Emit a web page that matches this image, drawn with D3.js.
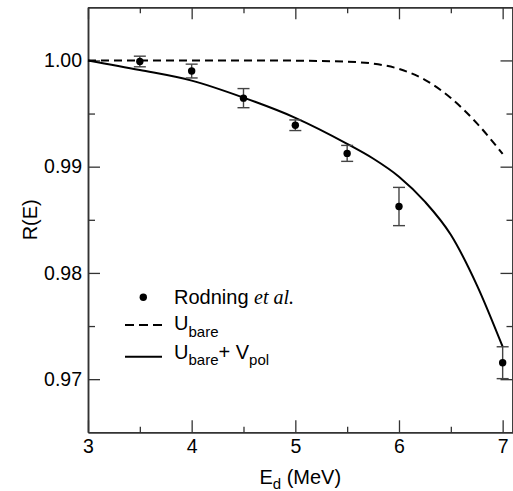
<!DOCTYPE html>
<html>
<head>
<meta charset="utf-8">
<script src="https://cdn.jsdelivr.net/npm/d3@7"></script>
<style>
  body { margin: 0; background: #fff; }
  svg text { font-family: "Liberation Sans", Arial, Helvetica, sans-serif; }
</style>
</head>
<body>
<div class="chart"></div>
<script>
// measured points (Rodning et al.)
var energies = [3.5, 4.0, 4.5, 5.0, 5.5, 6.0, 7.0];
var ratio    = [0.9999, 0.9990, 0.99645, 0.9939, 0.99125, 0.98625, 0.97155];
var errors   = [0.0005, 0.00065, 0.0009, 0.0005, 0.00075, 0.0018, 0.0015];

// calculated curves
var curveE = [3.0, 3.5, 4.0, 4.5, 5.0, 5.5, 5.75, 6.0, 6.25, 6.5, 6.75, 7.0];
var uBare  = [1.0, 1.0, 1.0, 1.0, 0.99998, 0.99988, 0.9997, 0.9992, 0.99817, 0.99647, 0.9941, 0.9912];
var uPol   = [1.0, 0.9991, 0.9981, 0.9965, 0.9946, 0.99215, 0.99077, 0.98906, 0.98671, 0.98359, 0.97888, 0.97305];

var xMajor = [3, 4, 5, 6, 7];
var xMinor = [3.5, 4.5, 5.5, 6.5];
var yMajor = [0.97, 0.98, 0.99, 1.00];
var yMinor = [0.975, 0.985, 0.995];

(function() {
var width = 513, height = 491;
var left = 88, right = 512.5, topY = 7.3, bottom = 432.3;

var svg = d3.select('div.chart')
    .append('svg')
    .attr('width', width)
    .attr('height', height);

var x = d3.scaleLinear().domain([3, 7.095]).range([left, right]);
var y = d3.scaleLinear().domain([0.965, 1.005]).range([bottom, topY]);

var axisColor = '#333';

function styleAxis(g) {
    g.selectAll('path.domain').attr('stroke', axisColor).attr('stroke-width', 1.5);
    g.selectAll('.tick line').attr('stroke', axisColor).attr('stroke-width', 1.3);
    g.selectAll('.tick text').attr('fill', '#000').attr('font-size', '19.5px')
        .attr('font-family', '"Liberation Sans", Arial, Helvetica, sans-serif');
}

// bottom axis
svg.append('g')
    .attr('transform', 'translate(0,' + bottom + ')')
    .call(d3.axisBottom(x).tickValues(xMajor).tickFormat(d3.format('d'))
        .tickSize(-12).tickSizeOuter(0).tickPadding(7))
    .call(styleAxis);
svg.append('g')
    .attr('transform', 'translate(0,' + bottom + ')')
    .call(d3.axisBottom(x).tickValues(xMinor).tickFormat('').tickSize(-5.5).tickSizeOuter(0))
    .call(styleAxis);

// top axis
svg.append('g')
    .attr('transform', 'translate(0,' + topY + ')')
    .call(d3.axisTop(x).tickValues(xMajor).tickFormat('').tickSize(-12).tickSizeOuter(0))
    .call(styleAxis);
svg.append('g')
    .attr('transform', 'translate(0,' + topY + ')')
    .call(d3.axisTop(x).tickValues(xMinor).tickFormat('').tickSize(-6).tickSizeOuter(0))
    .call(styleAxis);

// left axis
svg.append('g')
    .attr('transform', 'translate(' + left + ',0)')
    .call(d3.axisLeft(y).tickValues(yMajor).tickFormat(d3.format('.2f'))
        .tickSize(-12).tickSizeOuter(0).tickPadding(6))
    .call(styleAxis);
svg.append('g')
    .attr('transform', 'translate(' + left + ',0)')
    .call(d3.axisLeft(y).tickValues(yMinor).tickFormat('').tickSize(-7).tickSizeOuter(0))
    .call(styleAxis);

// right axis
svg.append('g')
    .attr('transform', 'translate(' + right + ',0)')
    .call(d3.axisRight(y).tickValues(yMajor).tickFormat('').tickSize(-12).tickSizeOuter(0))
    .call(styleAxis);
svg.append('g')
    .attr('transform', 'translate(' + right + ',0)')
    .call(d3.axisRight(y).tickValues(yMinor).tickFormat('').tickSize(-6).tickSizeOuter(0))
    .call(styleAxis);

// curves
var line = d3.line()
    .x(function(d) { return x(d[0]); })
    .y(function(d) { return y(d[1]); })
    .curve(d3.curveMonotoneX);

svg.append('path')
    .datum(curveE.map(function(e, i) { return [e, uBare[i]]; }))
    .attr('d', line)
    .attr('fill', 'none')
    .attr('stroke', '#000')
    .attr('stroke-width', 2)
    .attr('stroke-dasharray', '8,5');

svg.append('path')
    .datum(curveE.map(function(e, i) { return [e, uPol[i]]; }))
    .attr('d', line)
    .attr('fill', 'none')
    .attr('stroke', '#000')
    .attr('stroke-width', 2);

// error bars + points
var pts = energies.map(function(e, i) { return { e: e, r: ratio[i], err: errors[i] }; });
var eb = svg.append('g').attr('stroke', '#444').attr('stroke-width', 1.4);
eb.selectAll('line.v').data(pts).enter().append('line')
    .attr('x1', function(d) { return x(d.e); })
    .attr('x2', function(d) { return x(d.e); })
    .attr('y1', function(d) { return y(d.r - d.err); })
    .attr('y2', function(d) { return y(d.r + d.err); });
eb.selectAll('line.top').data(pts).enter().append('line')
    .attr('x1', function(d) { return x(d.e) - 6; })
    .attr('x2', function(d) { return x(d.e) + 6; })
    .attr('y1', function(d) { return y(d.r + d.err); })
    .attr('y2', function(d) { return y(d.r + d.err); });
eb.selectAll('line.bot').data(pts).enter().append('line')
    .attr('x1', function(d) { return x(d.e) - 6; })
    .attr('x2', function(d) { return x(d.e) + 6; })
    .attr('y1', function(d) { return y(d.r - d.err); })
    .attr('y2', function(d) { return y(d.r - d.err); });

svg.selectAll('circle.pt').data(pts).enter().append('circle')
    .attr('cx', function(d) { return x(d.e); })
    .attr('cy', function(d) { return y(d.r); })
    .attr('r', 3.7)
    .attr('fill', '#000');

// legend
var lg = svg.append('g');
lg.append('circle').attr('cx', 143.3).attr('cy', 297.3).attr('r', 3.7).attr('fill', '#000');
var t1 = lg.append('text').attr('x', 174).attr('y', 303.5).attr('font-size', '20px');
t1.append('tspan').text('Rodning ');
t1.append('tspan').attr('font-family', '"Liberation Serif", "Times New Roman", serif')
    .attr('font-style', 'italic').text('et al.');

lg.append('line').attr('x1', 125).attr('x2', 162).attr('y1', 325).attr('y2', 325)
    .attr('stroke', '#000').attr('stroke-width', 2).attr('stroke-dasharray', '9,5');
var t2 = lg.append('text').attr('x', 174).attr('y', 330).attr('font-size', '20px');
t2.append('tspan').text('U');
t2.append('tspan').attr('font-size', '15px').attr('dy', 6.5).text('bare');

lg.append('line').attr('x1', 125).attr('x2', 162).attr('y1', 356.7).attr('y2', 356.7)
    .attr('stroke', '#000').attr('stroke-width', 2);
var t3 = lg.append('text').attr('x', 174).attr('y', 358.5).attr('font-size', '20px');
t3.append('tspan').text('U');
t3.append('tspan').attr('font-size', '15px').attr('dy', 6.5).text('bare');
t3.append('tspan').attr('dy', -6.5).text('+ V');
t3.append('tspan').attr('font-size', '15px').attr('dy', 6.5).text('pol');

// axis titles
var xt = svg.append('text')
    .attr('x', (left + right) / 2)
    .attr('y', 484)
    .attr('text-anchor', 'middle')
    .attr('font-size', '20px');
xt.append('tspan').text('E');
xt.append('tspan').attr('font-size', '15px').attr('dy', 5).text('d');
xt.append('tspan').attr('dy', -5).text(' (MeV)');

svg.append('text')
    .attr('transform', 'translate(37,' + ((topY + bottom) / 2) + ') rotate(-90)')
    .attr('text-anchor', 'middle')
    .attr('font-size', '20px')
    .text('R(E)');
})();
</script>
</body>
</html>
